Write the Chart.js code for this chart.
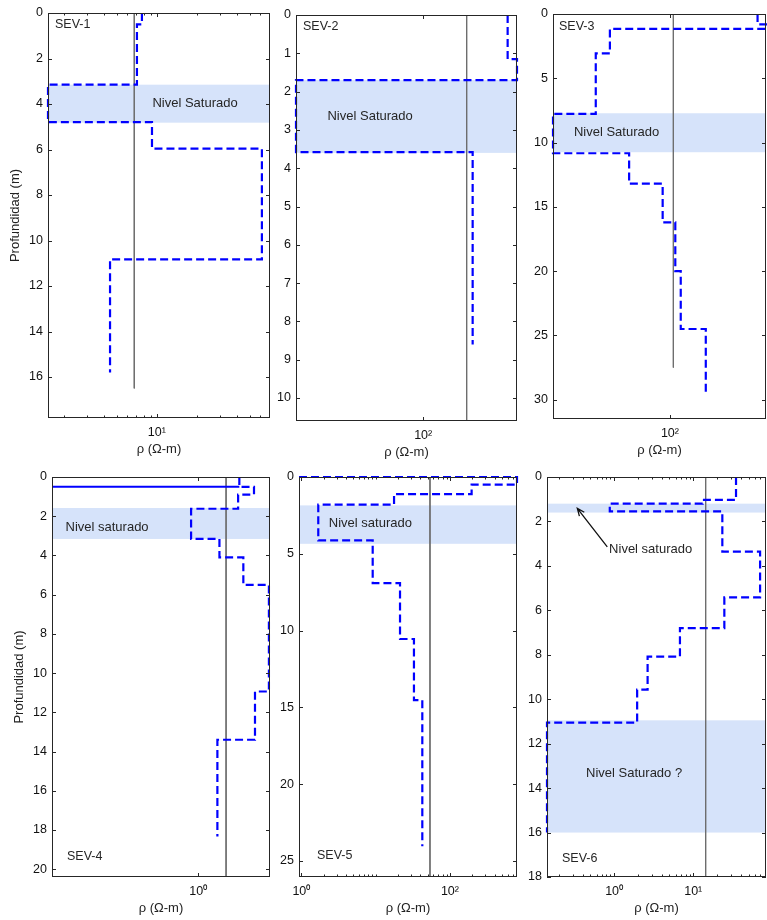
<!DOCTYPE html>
<html>
<head>
<meta charset="utf-8">
<script src="https://cdn.jsdelivr.net/npm/chart.js@4.4.0/dist/chart.umd.min.js"></script>
<style>
  html, body { margin: 0; padding: 0; background: #fff; overflow: hidden; }
  #wrap { position: relative; width: 767px; height: 920px; overflow: hidden; }
  #wrap canvas { position: absolute; }
</style>
</head>
<body>
<div id="wrap"></div>
<script>
// layer boundaries (m) and layer resistivity (ohm-m) for each sounding
const sev1Depth = [0, 0.5, 3.15, 4.8, 5.96, 10.83, 15.8];
const sev1Rho = [7.73, 7.09, 1.52, 9.2, 61.7, 4.45];
const sev2Depth = [0, 1.15, 1.7, 3.58, 8.6];
const sev2Rho = [222.4, 243, 30, 159.7];
const sev3Depth = [0, 0.8, 1.15, 3.06, 7.77, 10.83, 13.2, 16.2, 20.0, 24.5, 29.5];
const sev3Rho = [246.6, 269, 53.9, 46.6, 30, 65.7, 92.8, 105.7, 111.8, 144.7];
const sev4Depth = [0, 0.5, 0.9, 1.62, 3.16, 4.1, 5.5, 10.94, 13.4, 18.34];
const sev4Rho = [1.403, 1.583, 1.389, 0.943, 1.191, 1.45, 1.79, 1.596, 1.171];
const sev5Depth = [0, 0, 0.5, 1.11, 1.8, 4.13, 6.91, 10.55, 14.53, 24.05];
const sev5Rho = [0.93, 800, 196, 17.7, 1.69, 9.13, 21.3, 32.8, 42.5];
const sev6Depth = [0, 1.03, 1.2, 1.55, 3.36, 5.42, 6.8, 8.08, 9.57, 11.05, 16];
const sev6Rho = [34.7, 13.15, 0.882, 23.3, 69.9, 24.7, 6.79, 2.65, 1.955, 0.142];

// solid line at the top of SEV-4
const sev4LineRho = [0.3, 1.403];
const sev4LineDepth = [0.5, 0.5];

// grey reference line per sounding (rho, and depth where it ends)
const refRho = [6.77, 150.9, 103.6, 1.258, 53.9, 14.35];
const refEnd = [16.5, 10.6, 27.5, 20.4, 26.05, 18];

// saturated zones (top, bottom in m)
const sev1Bands = [[3.15, 4.82]];
const sev2Bands = [[1.7, 3.6]];
const sev3Bands = [[7.72, 10.75]];
const sev4Bands = [[1.58, 3.16]];
const sev5Bands = [[1.85, 4.35]];
const sev6Bands = [[1.2, 1.6], [10.95, 16]];

// labelled x ticks
const sev1XTicks = [10];
const sev2XTicks = [100];
const sev3XTicks = [100];
const sev4XTicks = [1];
const sev5XTicks = [1, 100];
const sev6XTicks = [1, 10];

const FONT = '"Liberation Sans", Arial, Helvetica, sans-serif';
const SUP = {'-': '⁻', '0': '⁰', '1': '¹', '2': '²', '3': '³', '4': '⁴'};

const steps = (depth, rho) => {
    const pts = [];
    rho.forEach((r, i) => {
        pts.push({x: r, y: depth[i]}, {x: r, y: depth[i + 1]});
    });
    return pts;
};

const pow10 = v => '10' + String(Math.round(Math.log10(v))).split('').map(c => SUP[c]).join('');

const panels = [
    {name: 'SEV-1', area: [48, 13, 270, 418], x: [1.52, 71], y: [0, 17.8], step: 2,
     xTicks: sev1XTicks, minor: true, yTitle: true, line: steps(sev1Depth, sev1Rho),
     bands: sev1Bands, label: [7, 12, false],
     notes: [{text: 'Nivel Saturado', x: 19.4, y: 3.98, align: 'center'}]},
    {name: 'SEV-2', area: [296, 15, 517, 421], x: [30, 243], y: [0, 10.6], step: 1,
     xTicks: sev2XTicks, minor: false, yTitle: false, line: steps(sev2Depth, sev2Rho),
     bands: sev2Bands, label: [7, 12, false],
     notes: [{text: 'Nivel Saturado', x: 60.5, y: 2.66, align: 'center'}]},
    {name: 'SEV-3', area: [553, 14, 766, 419], x: [30, 269], y: [0, 31.5], step: 5,
     xTicks: sev3XTicks, minor: false, yTitle: false, line: steps(sev3Depth, sev3Rho),
     bands: sev3Bands, label: [6, 13, false],
     notes: [{text: 'Nivel Saturado', x: 57.7, y: 9.22, align: 'center'}]},
    {name: 'SEV-4', area: [52, 477, 270, 877], x: [0.3, 1.806], y: [0, 20.4], step: 2,
     xTicks: sev4XTicks, minor: false, yTitle: true, line: steps(sev4Depth, sev4Rho),
     bands: sev4Bands, label: [15, 20, true],
     notes: [{text: 'Nivel saturado', x: 0.472, y: 2.55, align: 'center'}]},
    {name: 'SEV-5', area: [299, 477, 517, 877], x: [0.93, 800], y: [0, 26.05], step: 5,
     xTicks: sev5XTicks, minor: true, yTitle: false, line: steps(sev5Depth, sev5Rho),
     bands: sev5Bands, label: [18, 21, true],
     notes: [{text: 'Nivel saturado', x: 8.5, y: 3.05, align: 'center'}]},
    {name: 'SEV-6', area: [547, 477, 766, 877], x: [0.142, 83], y: [0, 18], step: 2,
     xTicks: sev6XTicks, minor: true, yTitle: false, line: steps(sev6Depth, sev6Rho),
     bands: sev6Bands, label: [15, 18, true],
     notes: [{text: 'Nivel saturado', x: 0.865, y: 3.24, align: 'left'},
             {text: 'Nivel Saturado ?', x: 1.79, y: 13.36, align: 'center'}],
     arrow: [0.82, 3.14, 0.343, 1.41]}
];

// bands, notes, box and inward ticks
const deco = p => ({
    id: 'deco',
    beforeDatasetsDraw(chart) {
        const {ctx, chartArea: a, scales: {y}} = chart;
        ctx.save();
        ctx.fillStyle = 'rgb(214,227,250)';
        p.bands.forEach(b => {
            const y0 = y.getPixelForValue(b[0]);
            const y1 = y.getPixelForValue(b[1]);
            ctx.fillRect(a.left, y0, a.right - a.left, y1 - y0);
        });
        ctx.restore();
    },
    afterDraw(chart) {
        const {ctx, chartArea: a, scales: {x, y}} = chart;
        ctx.save();
        ctx.fillStyle = '#262626';
        ctx.textBaseline = 'middle';
        ctx.font = '13px ' + FONT;
        p.notes.forEach(n => {
            ctx.textAlign = n.align;
            ctx.fillText(n.text, x.getPixelForValue(n.x), y.getPixelForValue(n.y));
        });
        ctx.font = '12.5px ' + FONT;
        ctx.textAlign = 'left';
        const [dx, dy, fromBottom] = p.label;
        ctx.fillText(p.name, a.left + dx, fromBottom ? a.bottom - dy : a.top + dy);

        if (p.arrow) {
            const x0 = x.getPixelForValue(p.arrow[0]), y0 = y.getPixelForValue(p.arrow[1]);
            const x1 = x.getPixelForValue(p.arrow[2]), y1 = y.getPixelForValue(p.arrow[3]);
            const ang = Math.atan2(y1 - y0, x1 - x0);
            ctx.strokeStyle = '#111';
            ctx.lineWidth = 1.3;
            ctx.beginPath();
            ctx.moveTo(x0, y0);
            ctx.lineTo(x1, y1);
            ctx.moveTo(x1 - 8 * Math.cos(ang - 0.4), y1 - 8 * Math.sin(ang - 0.4));
            ctx.lineTo(x1, y1);
            ctx.lineTo(x1 - 8 * Math.cos(ang + 0.4), y1 - 8 * Math.sin(ang + 0.4));
            ctx.stroke();
        }

        ctx.strokeStyle = '#262626';
        ctx.lineWidth = 1;
        ctx.strokeRect(a.left + 0.5, a.top + 0.5, a.right - a.left - 1, a.bottom - a.top - 1);
        ctx.beginPath();
        y.ticks.forEach(t => {
            const py = Math.round(y.getPixelForValue(t.value)) + 0.5;
            ctx.moveTo(a.left, py); ctx.lineTo(a.left + 4, py);
            ctx.moveTo(a.right, py); ctx.lineTo(a.right - 4, py);
        });
        const xTick = (v, len) => {
            const px = Math.round(x.getPixelForValue(v)) + 0.5;
            ctx.moveTo(px, a.bottom); ctx.lineTo(px, a.bottom - len);
            ctx.moveTo(px, a.top); ctx.lineTo(px, a.top + len);
        };
        p.xTicks.forEach(v => xTick(v, 4));
        if (p.minor) {
            for (let e = Math.floor(Math.log10(p.x[0])); e <= Math.ceil(Math.log10(p.x[1])); e++) {
                for (let k = 1; k <= 9; k++) {
                    const v = k * Math.pow(10, e);
                    if (v > p.x[0] && v < p.x[1] && !p.xTicks.includes(v)) xTick(v, 2.5);
                }
            }
        }
        ctx.stroke();
        ctx.restore();
    }
});

const wrap = document.getElementById('wrap');

panels.forEach((p, i) => {
    const [l, t, r, b] = p.area;
    const canvas = document.createElement('canvas');
    canvas.width = r - l + 52;
    canvas.height = b - t + 55;
    canvas.style.left = (l - 48) + 'px';
    canvas.style.top = (t - 13) + 'px';
    wrap.appendChild(canvas);

    const datasets = [{
        data: p.line,
        showLine: true,
        borderColor: '#0000ff',
        borderWidth: 2.2,
        borderDash: [8, 4],
        pointRadius: 0,
        clip: false
    }, {
        data: [{x: refRho[i], y: 0}, {x: refRho[i], y: refEnd[i]}],
        showLine: true,
        borderColor: '#6e6e6e',
        borderWidth: 1,
        pointRadius: 0
    }];
    if (p.name === 'SEV-4') {
        datasets.unshift({
            data: sev4LineRho.map((r, k) => ({x: r, y: sev4LineDepth[k]})),
            showLine: true,
            borderColor: '#0000ff',
            borderWidth: 2,
            pointRadius: 0,
            clip: false
        });
    }

    new Chart(canvas, {
        type: 'scatter',
        data: {datasets: datasets},
        options: {
            responsive: false,
            animation: false,
            devicePixelRatio: 1,
            layout: {padding: {left: 0, top: 13, right: 4, bottom: 0}},
            plugins: {legend: {display: false}, tooltip: {enabled: false}},
            scales: {
                x: {
                    type: 'logarithmic',
                    min: p.x[0],
                    max: p.x[1],
                    grid: {display: false, drawTicks: false},
                    border: {display: false},
                    afterBuildTicks: s => { s.ticks = p.xTicks.map(v => ({value: v})); },
                    afterFit: s => { s.height = 42; },
                    ticks: {padding: 7, color: '#111', autoSkip: false, maxRotation: 0,
                            font: {family: FONT, size: 12.5}, callback: v => pow10(v)},
                    title: {display: true, text: 'ρ (Ω-m)', color: '#222',
                            font: {family: FONT, size: 13}, padding: {top: 0, bottom: 3}}
                },
                y: {
                    type: 'linear',
                    reverse: true,
                    min: p.y[0],
                    max: p.y[1],
                    grid: {display: false, drawTicks: false},
                    border: {display: false},
                    afterFit: s => { s.width = 48; },
                    ticks: {stepSize: p.step, includeBounds: false, padding: 5, color: '#111',
                            font: {family: FONT, size: 12.5}},
                    title: {display: p.yTitle, text: 'Profundidad (m)', color: '#222',
                            font: {family: FONT, size: 13}, padding: {top: 8, bottom: 0}}
                }
            }
        },
        plugins: [deco(p)]
    });
});
</script>
</body>
</html>
